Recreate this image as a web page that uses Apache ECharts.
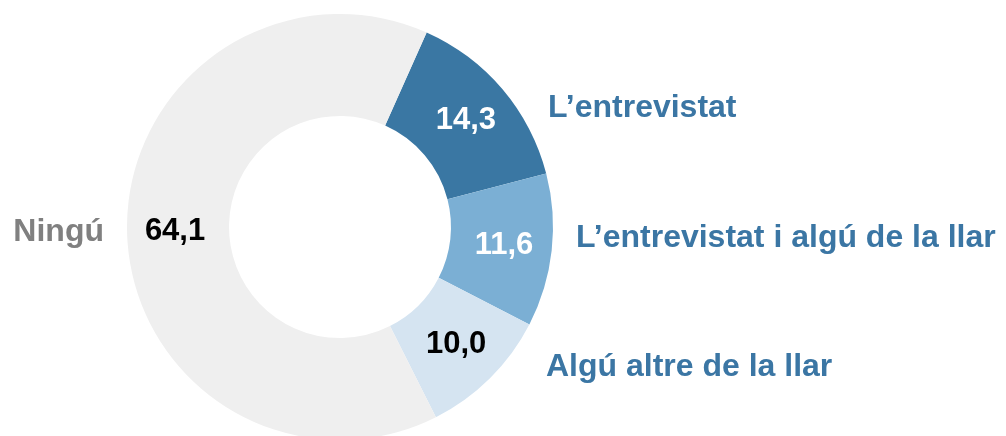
<!DOCTYPE html>
<html>
<head>
<meta charset="utf-8">
<script src="https://cdn.jsdelivr.net/npm/echarts@6/dist/echarts.min.js"></script>
<style>
  html, body { margin: 0; padding: 0; background: #fff; }
  #chart { width: 1006px; height: 436px; }
</style>
</head>
<body>
<div id="chart"></div>
<script>
// dades
const categories = ["L\u2019entrevistat", "L\u2019entrevistat i algú de la llar", "Algú altre de la llar", "Ningú"]
const values = [14.3, 11.6, 10.0, 64.1]

// estil
const sliceColors = ['#3a77a3', '#7bafd4', '#d5e4f1', '#efefef']
const valueColors = ['#ffffff', '#ffffff', '#000000', '#000000']
const nameColors = ['#3b76a4', '#3b76a4', '#3b76a4', '#808080']
// posició dels noms (x, y, alineació)
const namePos = [
  { x: 548, y: 108, align: 'left' },
  { x: 576, y: 238, align: 'left' },
  { x: 546, y: 367, align: 'left' },
  { x: 104, y: 232, align: 'right' }
]

const font = '"Liberation Sans", Arial, sans-serif'
const center = [340, 227]
const radius = [111, 213]
const startAngle = 66

let myChart = echarts.init(document.getElementById('chart'))
let option = {
  animation: false,
  series: [
    {
      type: 'pie',
      center: center,
      radius: radius,
      startAngle: startAngle,
      clockwise: true,
      avoidLabelOverlap: false,
      emphasis: { disabled: true },
      label: {
        show: true,
        position: 'inside',
        fontFamily: font,
        fontWeight: 'bold',
        fontSize: 31,
        formatter: (p) => p.value.toFixed(1).replace('.', ',')
      },
      labelLine: { show: false },
      data: values.map((v, i) => {
        return {
          name: categories[i],
          value: v,
          itemStyle: { color: sliceColors[i] },
          label: { color: valueColors[i] }
        }
      })
    },
    {
      // capa només per als noms de les categories
      type: 'pie',
      silent: true,
      center: center,
      radius: radius,
      startAngle: startAngle,
      clockwise: true,
      avoidLabelOverlap: false,
      itemStyle: { color: 'rgba(0,0,0,0)' },
      label: {
        show: true,
        position: 'outside',
        fontFamily: font,
        fontWeight: 'bold',
        fontSize: 32,
        formatter: '{b}'
      },
      labelLine: { show: false },
      labelLayout: (params) => {
        const p = namePos[params.dataIndex]
        return { x: p.x, y: p.y, align: p.align, verticalAlign: 'middle' }
      },
      data: values.map((v, i) => {
        return {
          name: categories[i],
          value: v,
          label: { color: nameColors[i] }
        }
      })
    }
  ]
}
myChart.setOption(option)
</script>
</body>
</html>
